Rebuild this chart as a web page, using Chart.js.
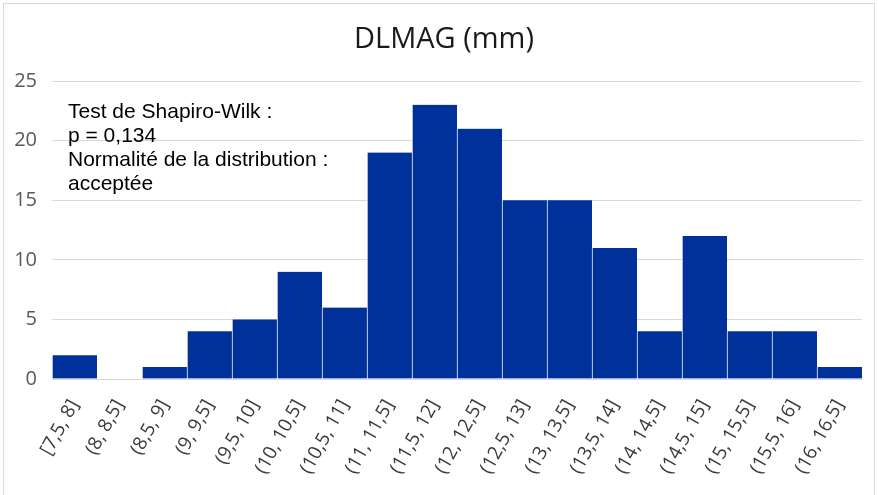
<!DOCTYPE html>
<html>
<head>
<meta charset="utf-8">
<script src="https://cdn.jsdelivr.net/npm/chart.js@4"></script>
<style>
  html, body { margin: 0; padding: 0; background: #fff; }
  #wrap { width: 878px; height: 495px; position: relative; }
</style>
</head>
<body>
<div id="wrap"><canvas id="histo" width="878" height="495"></canvas></div>
<script>
// bins and counts
const bins = ['[7,5, 8]', '(8, 8,5]', '(8,5, 9]', '(9, 9,5]', '(9,5, 10]', '(10, 10,5]',
  '(10,5, 11]', '(11, 11,5]', '(11,5, 12]', '(12, 12,5]', '(12,5, 13]', '(13, 13,5]',
  '(13,5, 14]', '(14, 14,5]', '(14,5, 15]', '(15, 15,5]', '(15,5, 16]', '(16, 16,5]'];
const counts = [2, 0, 1, 4, 5, 9, 6, 19, 23, 21, 15, 15, 11, 4, 12, 4, 4, 1];
const yTicks = [0, 5, 10, 15, 20, 25];
const note = ['Test de Shapiro-Wilk :', 'p = 0,134', 'Normalité de la distribution :', 'acceptée'];

// outer frame like the spreadsheet chart box
const frame = {
  id: 'frame',
  beforeDraw(chart) {
    const c = chart.ctx;
    c.save();
    c.fillStyle = '#fff';
    c.fillRect(0, 0, chart.width, chart.height);
    c.strokeStyle = '#d9d9d9';
    c.lineWidth = 1;
    c.strokeRect(3.5, 3.5, chart.width - 7, chart.height);
    c.restore();
  },
  // title sits a bit right of the canvas centre in the original
  afterLayout(chart) {
    const tb = chart.titleBlock;
    if (!tb || tb._shifted) return;
    const orig = tb.draw.bind(tb);
    tb.draw = function (area) {
      chart.ctx.save();
      chart.ctx.translate(13, 0);
      orig(area);
      chart.ctx.restore();
    };
    tb._shifted = true;
  }
};

// Shapiro-Wilk text block in the upper left of the plot
const noteBox = {
  id: 'noteBox',
  afterDraw(chart) {
    const c = chart.ctx, a = chart.chartArea;
    c.save();
    c.font = '21px "Liberation Sans", Arial, sans-serif';
    c.fillStyle = '#000';
    c.textBaseline = 'alphabetic';
    note.forEach((line, i) => c.fillText(line, a.left + 16, a.top + 37 + i * 24));
    c.restore();
  }
};

new Chart(document.getElementById('histo'), {
  type: 'bar',
  data: {
    labels: bins,
    datasets: [{
      data: counts,
      backgroundColor: '#00309a',
      borderColor: 'rgba(255,255,255,0.85)',
      borderWidth: {left: 1, right: 0, top: 0, bottom: 0},
      borderSkipped: false,
      categoryPercentage: 1,
      barPercentage: 1
    }]
  },
  options: {
    responsive: false,
    animation: false,
    layout: { padding: { left: 0, right: 16, top: 0, bottom: 0 } },
    plugins: {
      legend: { display: false },
      tooltip: { enabled: false },
      title: {
        display: true,
        text: 'DLMAG (mm)',
        color: '#1a1a1a',
        font: { family: '"Open Sans"', size: 29, weight: 'normal', lineHeight: 1.2 },
        padding: { top: 22, bottom: 24.2 }
      }
    },
    scales: {
      x: {
        grid: { display: false },
        border: { display: false },
        ticks: {
          color: '#3a3a3a',
          font: { family: '"Open Sans"', size: 19 },
          maxRotation: 61,
          minRotation: 61,
          padding: 9,
          autoSkip: false
        },
        afterFit(scale) { scale.height = 116; }
      },
      y: {
        min: 0,
        max: 25,
        afterBuildTicks(scale) { scale.ticks = yTicks.map(v => ({value: v})); },
        grid: { color: '#d9d9d9', lineWidth: 1, drawTicks: false },
        border: { display: false },
        ticks: {
          color: '#595959',
          font: { family: '"Open Sans"', size: 20 },
          padding: 15
        },
        afterFit(scale) { scale.width = 52; }
      }
    }
  },
  plugins: [frame, noteBox]
});
</script>
</body>
</html>
